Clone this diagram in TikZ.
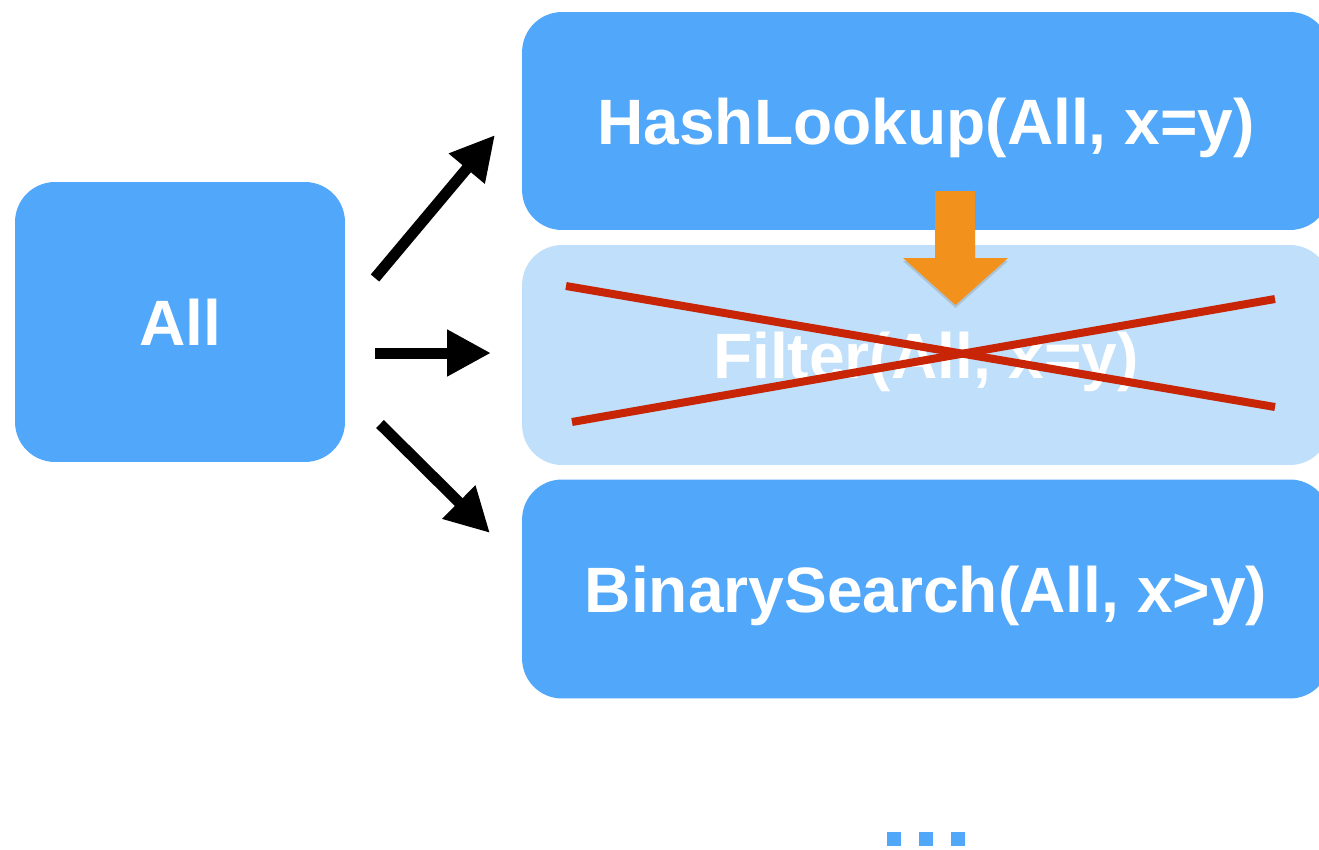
\documentclass[tikz,border=0pt]{standalone}
\usepackage{fontspec}
\setmainfont{Liberation Sans}
\usetikzlibrary{arrows.meta,shadows,calc}
\definecolor{boxblue}{RGB}{81,167,249}
\definecolor{boxpale}{RGB}{191,223,250}
\definecolor{hintorange}{RGB}{242,146,29}
\definecolor{crossred}{RGB}{200,37,6}
\begin{document}
\begin{tikzpicture}[x=0.02cm,y=-0.02cm,
  opbox/.style={rectangle, rounded corners=0.8cm, fill=boxblue, draw=none,
    text=white, font=\fontsize{36.5}{40}\selectfont\bfseries, inner sep=0pt,
    text height=26.5pt, text depth=0pt},
  bigarrow/.style={line width=0.22cm, draw=black,
    -{Triangle[length=0.88cm,width=0.88cm]}},
  crossline/.style={line width=0.16cm, draw=crossred},
  dotbox/.style={fill=boxblue, draw=none}]
\useasboundingbox (0,0) rectangle (1319,849);
\clip (0,0) rectangle (1319,849);

% plan boxes
\node[opbox, minimum width=6.6cm, minimum height=5.6cm] (all) at (180,322) {All};
\node[opbox, minimum width=16.16cm, minimum height=4.36cm] (hash) at (926,121) {HashLookup(All, x=y)};
\node[opbox, fill=boxpale, minimum width=16.16cm, minimum height=4.4cm] (filter) at (926,355) {Filter(All, x=y)};
\node[opbox, minimum width=16.16cm, minimum height=4.38cm] (bsearch) at (926,589) {BinarySearch(All, x>y)};

% rewrites from the input
\coordinate (upA) at (375,278);
\coordinate (upB) at (495,135);
\coordinate (midA) at (375,353);
\coordinate (midB) at (491,353);
\coordinate (dnA) at (380,424);
\coordinate (dnB) at (490,533);
\draw[bigarrow] (upA) -- (upB);
\draw[bigarrow] (midA) -- (midB);
\draw[bigarrow] (dnA) -- (dnB);

% rejected plan
\coordinate (xa) at (566,286);
\coordinate (xb) at (1275,407);
\coordinate (xc) at (572,422);
\coordinate (xd) at (1275,299);
\draw[crossline] (xa) -- (xb);
\draw[crossline] (xc) -- (xd);

% replacement hint
\fill[hintorange, drop shadow={shadow xshift=0pt, shadow yshift=-0.06cm, opacity=0.3}]
  (935,191) -- (975,191) -- (975,258) -- (1008,258) -- (955.5,305)
  -- (903,258) -- (935,258) -- cycle;

% more alternatives
\fill[dotbox] (887,832) rectangle (901,846);
\fill[dotbox] (919,832) rectangle (933,846);
\fill[dotbox] (951,832) rectangle (965,846);
\end{tikzpicture}
\end{document}
